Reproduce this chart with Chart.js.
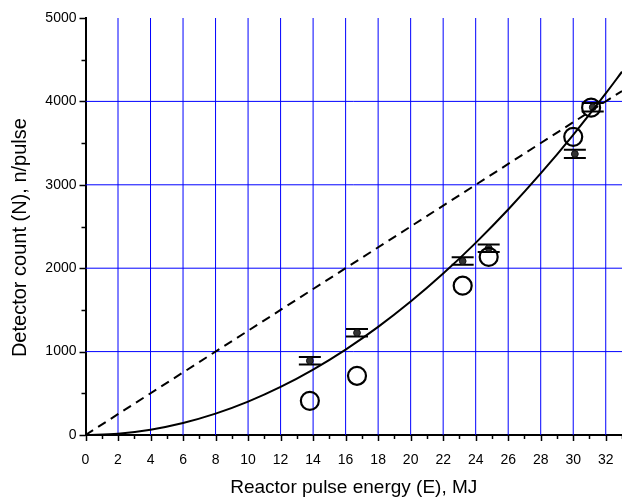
<!DOCTYPE html>
<html lang="en">
<head>
<meta charset="utf-8">
<script src="https://cdn.jsdelivr.net/npm/chart.js@4.4.1/dist/chart.umd.min.js"></script>
<style>
    html, body {margin:0; padding:0; background:#fff}
    .reportGraph {width:622px; height:503px}
</style>
</head>
<body>

<div class="reportGraph"><canvas id="canvas" width="622" height="503"></canvas></div>

<script type="text/javascript">
'use strict';

// measured points (open circles)
var circleE = [13.8, 16.7, 23.2, 24.8, 30.0, 31.1];
var circleN = [410, 710, 1790, 2135, 3575, 3925];

// measured points with error bars (small dots)
var dotE = [13.8, 16.7, 23.2, 24.8, 30.1, 31.2];
var dotN = [890, 1225, 2085, 2240, 3370, 3930];
var dotErr = [45, 45, 45, 45, 50, 50];

// solid curve
var curveE = [0, 2, 4, 6, 8, 10, 12, 14, 16, 18, 20, 22, 24, 26, 28, 30, 32, 33];
var curveN = [0, 16, 64, 144, 256, 400, 576, 784, 1024, 1296, 1600, 1936, 2304, 2704, 3136, 3600, 4096, 4356];

// dashed line
var lineE = [0, 33];
var lineN = [0, 4125];

var xTicks = [0, 2, 4, 6, 8, 10, 12, 14, 16, 18, 20, 22, 24, 26, 28, 30, 32];
var yTicks = [0, 1000, 2000, 3000, 4000, 5000];

function pts(xs, ys) {
    return xs.map(function (x, i) { return {x: x, y: ys[i]}; });
}

var GRID = '#0000ff';
var FONT = '"Liberation Sans", Arial, sans-serif';

// grid, error bars, outward tick marks
var extras = {
    id: 'extras',
    beforeDatasetsDraw: function (chart) {
        var ctx = chart.ctx, xs = chart.scales.x, ys = chart.scales.y;
        var a = chart.chartArea;
        ctx.save();
        // grid (not pixel-snapped, like the original's soft lines)
        ctx.strokeStyle = GRID;
        ctx.lineWidth = 1;
        ctx.beginPath();
        xTicks.forEach(function (v) {
            if (v === 0) return;
            var px = xs.getPixelForValue(v);
            ctx.moveTo(px, a.top); ctx.lineTo(px, a.bottom);
        });
        yTicks.forEach(function (v) {
            if (v === 0 || v === 5000) return;
            var py = ys.getPixelForValue(v);
            ctx.moveTo(a.left, py); ctx.lineTo(a.right, py);
        });
        ctx.stroke();
        // error bars
        ctx.strokeStyle = '#000';
        ctx.lineWidth = 2;
        ctx.beginPath();
        dotE.forEach(function (e, i) {
            var px = xs.getPixelForValue(e);
            var top = ys.getPixelForValue(dotN[i] + dotErr[i]);
            var bot = ys.getPixelForValue(dotN[i] - dotErr[i]);
            ctx.moveTo(px, top); ctx.lineTo(px, bot);
            ctx.moveTo(px - 11, top); ctx.lineTo(px + 11, top);
            ctx.moveTo(px - 11, bot); ctx.lineTo(px + 11, bot);
        });
        ctx.stroke();
        ctx.restore();
    },
    afterDraw: function (chart) {
        var ctx = chart.ctx, xs = chart.scales.x, ys = chart.scales.y;
        var a = chart.chartArea;
        ctx.save();
        ctx.strokeStyle = '#000';
        ctx.lineWidth = 1.5;
        ctx.beginPath();
        for (var v = 0; v <= 33; v++) {
            var px = Math.round(xs.getPixelForValue(v)) + 0.5;
            var len = (v % 2 === 0) ? 6 : 4;
            ctx.moveTo(px, a.bottom); ctx.lineTo(px, a.bottom + len);
        }
        for (var n = 0; n <= 5000; n += 500) {
            var py = Math.round(ys.getPixelForValue(n)) + 0.5;
            var l = (n % 1000 === 0) ? 6 : 4;
            ctx.moveTo(a.left, py); ctx.lineTo(a.left - l, py);
        }
        ctx.stroke();
        ctx.restore();
    }
};

function drawGraphs() {
    new Chart(document.getElementById('canvas'), {
        type: 'scatter',
        data: {
            datasets: [
                {
                    data: pts(lineE, lineN), showLine: true, borderColor: '#000',
                    borderWidth: 2, borderDash: [9, 6], pointRadius: 0, fill: false
                },
                {
                    data: pts(curveE, curveN), showLine: true, borderColor: '#000',
                    borderWidth: 2, cubicInterpolationMode: 'monotone', pointRadius: 0, fill: false
                },
                {
                    data: pts(circleE, circleN), showLine: false, pointStyle: 'circle',
                    pointRadius: 9, pointBorderWidth: 2.2, pointBorderColor: '#000',
                    pointBackgroundColor: 'rgba(0,0,0,0)'
                },
                {
                    data: pts(dotE, dotN), showLine: false, pointStyle: 'circle',
                    pointRadius: 3.4, pointBorderWidth: 1, pointBorderColor: '#111',
                    pointBackgroundColor: '#333'
                }
            ]
        },
        options: {
            responsive: false,
            animation: false,
            layout: {autoPadding: false, padding: {top: 18, right: 0, bottom: 4, left: 0}},
            plugins: {legend: {display: false}, tooltip: {enabled: false}},
            scales: {
                x: {
                    type: 'linear', min: 0, max: 33,
                    afterFit: function (s) {
                        s.height = 64;
                        s.paddingLeft = 0;
                        s.paddingRight = 0;
                    },
                    afterBuildTicks: function (s) {
                        s.ticks = xTicks.map(function (v) { return {value: v}; });
                    },
                    border: {display: true, color: '#000', width: 2},
                    grid: {display: false, drawTicks: false},
                    ticks: {
                        padding: 17, color: '#000', maxRotation: 0, autoSkip: false,
                        font: {family: FONT, size: 14},
                        callback: function (v) { return String(v); }
                    },
                    title: {
                        display: true, text: 'Reactor pulse energy (E), MJ', color: '#000',
                        font: {family: FONT, size: 19}, padding: {top: 0, bottom: 0}
                    }
                },
                y: {
                    type: 'linear', min: 0, max: 5000,
                    afterFit: function (s) {
                        s.width = 85.5;
                        s.paddingTop = 0;
                        s.paddingBottom = 0;
                    },
                    afterBuildTicks: function (s) {
                        s.ticks = yTicks.map(function (v) { return {value: v}; });
                    },
                    border: {display: true, color: '#000', width: 2},
                    grid: {display: false, drawTicks: false},
                    ticks: {
                        padding: 9, color: '#000', autoSkip: false,
                        font: {family: FONT, size: 14},
                        callback: function (v) { return String(v); }
                    },
                    title: {
                        display: true, text: 'Detector count (N), n/pulse    ', color: '#000',
                        font: {family: FONT, size: 20}, padding: {top: 8, bottom: 0}
                    }
                }
            }
        },
        plugins: [extras]
    });
}
window.onload = function () {
    drawGraphs();
};
</script>
</body>
</html>
